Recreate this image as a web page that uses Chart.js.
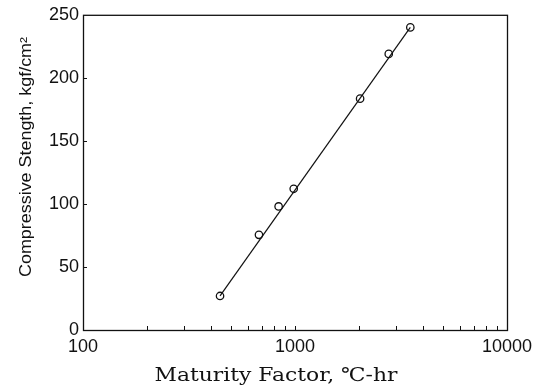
<!DOCTYPE html>
<html>
<head>
<meta charset="utf-8">
<script src="https://cdn.jsdelivr.net/npm/chart.js@4/dist/chart.umd.min.js"></script>
<style>
  html, body { margin: 0; padding: 0; background: #ffffff; }
  #chart { display: block; }
</style>
</head>
<body>
<canvas id="chart" width="547" height="387"></canvas>
<script>
// dados
var maturity = [443, 676, 837, 986, 2028, 2768, 3499];
var strength = [27, 75.5, 98, 112, 183.5, 219, 240];

// reta de ajuste
var fitMaturity = [443, 3499];
var fitStrength = [27, 240];

// ticks
var xTickValues = [100, 200, 300, 400, 500, 600, 700, 800, 900, 1000,
  2000, 3000, 4000, 5000, 6000, 7000, 8000, 9000, 10000];
var xLabelValues = [100, 1000, 10000];
var yTickValues = [0, 50, 100, 150, 200, 250];

var xTitle = 'Maturity Factor, \u2103-hr';
var yTitle = 'Compressive Stength, kgf/cm\u00b2';

function toPoints(xs, ys) {
  var pts = [];
  for (var i = 0; i < xs.length; i++) {
    pts.push({ x: xs[i], y: ys[i] });
  }
  return pts;
}

// moldura, ticks para dentro e titulos dos eixos
var framePlugin = {
  id: 'frame',
  afterDraw: function (chart) {
    var ctx = chart.ctx;
    var area = chart.chartArea;
    var xs = chart.scales.x;
    var ys = chart.scales.y;

    ctx.save();
    ctx.strokeStyle = '#111111';
    ctx.lineWidth = 1.3;
    ctx.strokeRect(area.left + 0.5, area.top + 0.5, area.right - area.left, area.bottom - area.top);

    ctx.lineWidth = 1;
    ctx.beginPath();
    for (var i = 1; i < xTickValues.length - 1; i++) {
      var px = Math.round(xs.getPixelForValue(xTickValues[i])) + 0.5;
      ctx.moveTo(px, area.bottom);
      ctx.lineTo(px, area.bottom - 4);
    }
    for (var j = 1; j < yTickValues.length - 1; j++) {
      var py = Math.round(ys.getPixelForValue(yTickValues[j])) + 0.5;
      ctx.moveTo(area.left, py);
      ctx.lineTo(area.left + 4, py);
    }
    ctx.stroke();

    ctx.fillStyle = '#111111';
    ctx.textAlign = 'center';
    ctx.textBaseline = 'alphabetic';

    // titulo do eixo x (fonte serifada, um pouco mais larga)
    ctx.save();
    ctx.translate(276, 381);
    ctx.scale(1.15, 1);
    ctx.font = '19px "DejaVu Serif"';
    ctx.fillText(xTitle, 0, 0);
    ctx.restore();

    // titulo do eixo y
    ctx.translate(31, 157);
    ctx.rotate(-Math.PI / 2);
    ctx.scale(1.12, 1);
    ctx.font = '16px "Liberation Sans"';
    ctx.fillText(yTitle, 0, 0);
    ctx.restore();
  }
};

var ctx = document.getElementById('chart').getContext('2d');
var chart = new Chart(ctx, {
  type: 'scatter',
  data: {
    datasets: [{
      type: 'line',
      data: toPoints(fitMaturity, fitStrength),
      borderColor: '#111111',
      borderWidth: 1.2,
      pointRadius: 0,
      fill: false
    }, {
      data: toPoints(maturity, strength),
      backgroundColor: '#ffffff',
      borderColor: '#111111',
      borderWidth: 1.3,
      pointRadius: 3.7
    }]
  },
  options: {
    responsive: false,
    animation: false,
    layout: { padding: { left: 0, right: 40, top: 13, bottom: 0 } },
    plugins: {
      legend: { display: false },
      tooltip: { enabled: false }
    },
    scales: {
      x: {
        type: 'logarithmic',
        min: 100,
        max: 10000,
        grid: { display: false, drawTicks: false },
        border: { display: false },
        afterBuildTicks: function (scale) {
          scale.ticks = xTickValues.map(function (v) { return { value: v }; });
        },
        afterFit: function (scale) { scale.height = 57; },
        ticks: {
          autoSkip: false,
          maxRotation: 0,
          padding: 6,
          color: '#111111',
          font: { family: 'Liberation Sans', size: 18 },
          callback: function (value) {
            return xLabelValues.indexOf(value) >= 0 ? String(value) : '';
          }
        }
      },
      y: {
        min: 0,
        max: 250,
        grid: { display: false, drawTicks: false },
        border: { display: false },
        afterBuildTicks: function (scale) {
          scale.ticks = yTickValues.map(function (v) { return { value: v }; });
        },
        afterFit: function (scale) { scale.width = 83; },
        ticks: {
          padding: 4,
          color: '#111111',
          font: { family: 'Liberation Sans', size: 18 }
        }
      }
    }
  },
  plugins: [framePlugin]
});
</script>
</body>
</html>
